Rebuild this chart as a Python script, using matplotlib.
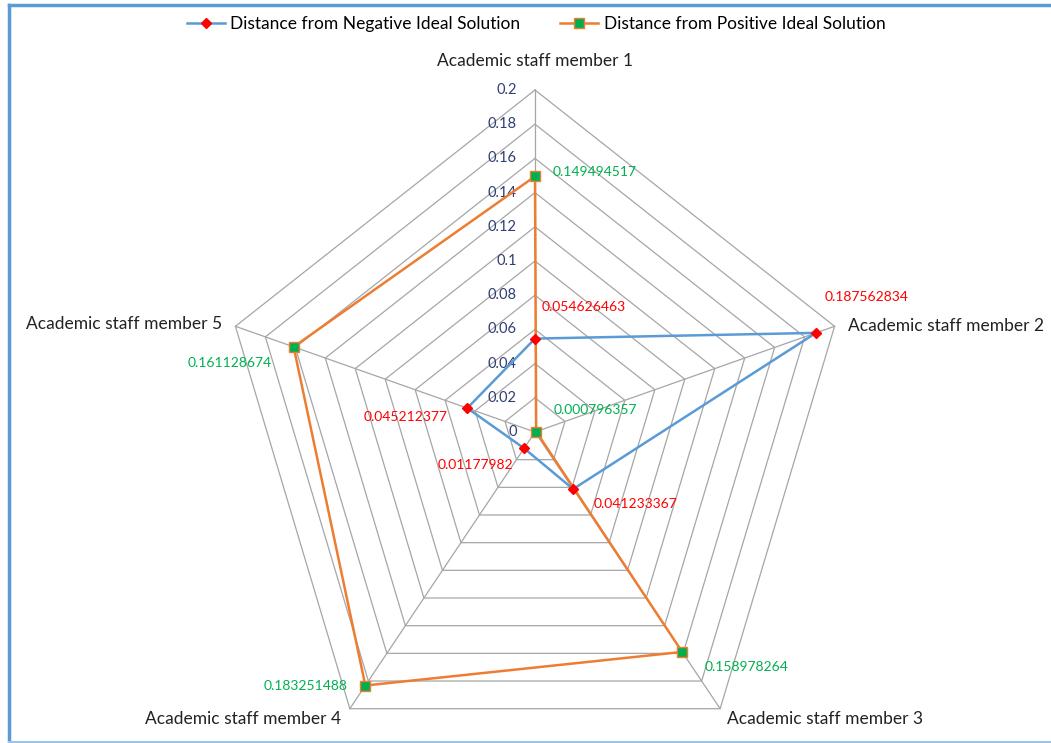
import numpy as np
import matplotlib
matplotlib.use("Agg")
import matplotlib.pyplot as plt
from matplotlib.lines import Line2D

# ---- data -------------------------------------------------------------
categories = [
    "Academic staff member 1",
    "Academic staff member 2",
    "Academic staff member 3",
    "Academic staff member 4",
    "Academic staff member 5",
]
neg_distance = [0.054626463, 0.187562834, 0.041233367, 0.01177982, 0.045212377]
pos_distance = [0.149494517, 0.000796357, 0.158978264, 0.183251488, 0.161128674]
neg_labels = ["0.054626463", "0.187562834", "0.041233367", "0.01177982", "0.045212377"]
pos_labels = ["0.149494517", "0.000796357", "0.158978264", "0.183251488", "0.161128674"]
tick_values = [0, 0.02, 0.04, 0.06, 0.08, 0.1, 0.12, 0.14, 0.16, 0.18, 0.2]
tick_labels = ["0", "0.02", "0.04", "0.06", "0.08", "0.1", "0.12", "0.14", "0.16", "0.18", "0.2"]
series_names = ["Distance from Negative Ideal Solution", "Distance from Positive Ideal Solution"]

# ---- layout ----------------------------------------------------------
W, H = 1051, 743
cx, cy = 535, 432          # centre of the web, pixels from top-left
rx, ry = 315, 342          # pixel length of the outer ring horizontally / vertically
rmax = tick_values[-1]

FONT = "Lato"
BLUE, ORANGE = "#5B9BD5", "#ED7D31"
RED, GREEN = "#FF0000", "#00B050"
GRID = "#A6A6A6"

fig = plt.figure(figsize=(W / 100, H / 100), dpi=100)
ax = fig.add_axes([0, 0, 1, 1])
ax.axis("off")
ax.set_xlim(-cx / rx, (W - cx) / rx)
ax.set_ylim((cy - H) / ry, cy / ry)

n = len(categories)
angles = np.pi / 2 - 2 * np.pi * np.arange(n) / n


def to_xy(values):
    r = np.asarray(values, dtype=float) / rmax
    return r * np.cos(angles), r * np.sin(angles)


# web grid
for t in tick_values[1:]:
    gx, gy = to_xy([t] * n)
    ax.plot(np.append(gx, gx[0]), np.append(gy, gy[0]), color=GRID, lw=0.9, zorder=1)
ox, oy = to_xy([rmax] * n)
for x, y in zip(ox, oy):
    ax.plot([0, x], [0, y], color=GRID, lw=0.9, zorder=1)

# radial tick labels along the first spoke
for t, lab in zip(tick_values, tick_labels):
    ax.annotate(lab, (0, t / rmax), xytext=(-18, 0), textcoords="offset pixels",
                ha="right", va="center", fontsize=10.5, color="#2F3F73", family=FONT)

# category labels
cat_offsets = [(0, 29, "center"), (13, 0, "left"), (7, -10, "left"),
               (-9, -10, "right"), (-13, 2, "right")]
for (x, y), lab, (dx, dy, ha) in zip(zip(ox, oy), categories, cat_offsets):
    ax.annotate(lab, (x, y), xytext=(dx, dy), textcoords="offset pixels",
                ha=ha, va="center", fontsize=12.5, color="#222222", family=FONT)

# series
nx, ny = to_xy(neg_distance)
px, py = to_xy(pos_distance)
ax.plot(np.append(nx, nx[0]), np.append(ny, ny[0]), color=BLUE, lw=1.8, zorder=3)
ax.plot(nx, ny, ls="none", marker="D", ms=5, mfc=RED, mec=RED, zorder=4)
ax.plot(np.append(px, px[0]), np.append(py, py[0]), color=ORANGE, lw=1.8, zorder=3)
ax.plot(px, py, ls="none", marker="s", ms=7, mfc=GREEN, mec=ORANGE, mew=1.0, zorder=4)

# value labels
neg_offsets = [(7, 32, "left"), (9, 36, "left"), (20, -15, "left"),
               (-11, -17, "right"), (-20, -9, "right")]
pos_offsets = [(18, 4, "left"), (17, 22, "left"), (22, -15, "left"),
               (-18, 0, "right"), (-22, -16, "right")]
for x, y, lab, (dx, dy, ha) in zip(nx, ny, neg_labels, neg_offsets):
    ax.annotate(lab, (x, y), xytext=(dx, dy), textcoords="offset pixels",
                ha=ha, va="center", fontsize=10, color=RED, family=FONT, zorder=5)
for x, y, lab, (dx, dy, ha) in zip(px, py, pos_labels, pos_offsets):
    ax.annotate(lab, (x, y), xytext=(dx, dy), textcoords="offset pixels",
                ha=ha, va="center", fontsize=10, color=GREEN, family=FONT, zorder=5)

# legend
handles = [
    Line2D([], [], color=BLUE, lw=1.8, marker="D", ms=5, mfc=RED, mec=RED),
    Line2D([], [], color=ORANGE, lw=1.8, marker="s", ms=7, mfc=GREEN, mec=ORANGE),
]
fig.legend(handles, series_names, loc="center", bbox_to_anchor=(536 / W, 1 - 24 / H),
           ncol=2, frameon=False, handlelength=2.2, columnspacing=2.3, handletextpad=0.3,
           prop={"family": FONT, "size": 12.5})

# chart frame
fig.add_artist(Line2D([9 / W, 9 / W], [1 - 5 / H, 1 - 742 / H], color=BLUE, lw=2.5,
                      transform=fig.transFigure))
fig.add_artist(Line2D([9 / W, 1.0], [1 - 5 / H, 1 - 5 / H], color=BLUE, lw=2.5,
                      transform=fig.transFigure))
fig.add_artist(Line2D([9 / W, 1.0], [1 - 742 / H, 1 - 742 / H], color="#9DC3E6", lw=1.5,
                      transform=fig.transFigure))

fig.savefig("out.png", dpi=100, facecolor="white")
